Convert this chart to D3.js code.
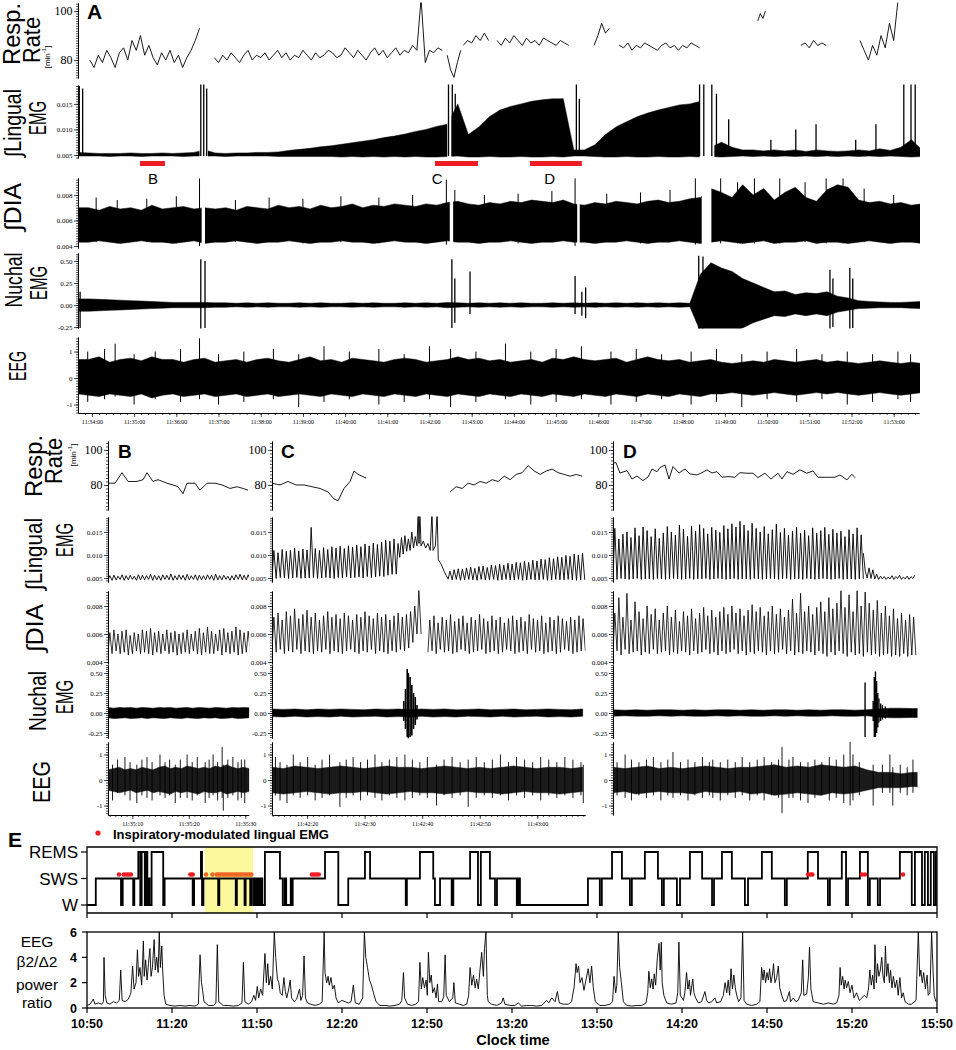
<!DOCTYPE html>
<html><head><meta charset="utf-8"><title>Lingual EMG figure</title>
<script src="https://cdn.jsdelivr.net/npm/d3@7/dist/d3.min.js"></script>
<style>html,body{margin:0;padding:0;background:#fff}svg{display:block}</style>
</head><body>
<script>
// ================= DATA =================
// ---- Panel A (time in minutes after 11:34:00) ----
const aTimeLabels = ["11:34:00","11:35:00","11:36:00","11:37:00","11:38:00","11:39:00","11:40:00","11:41:00","11:42:00","11:43:00","11:44:00","11:45:00","11:46:00","11:47:00","11:48:00","11:49:00","11:50:00","11:51:00","11:52:00","11:53:00"];
const aEnvStart = -0.33, aEnvStep = 0.25;   // envelope sampling of dense traces
const aRespSegStart = [-0.05, 2.9, 8.42, 8.8, 9.6, 11.9, 12.5, 15.78, 16.8, 18.2];
const aRespSegStep  = [0.1, 0.1, 0.08, 0.1, 0.1, 0.09, 0.1, 0.06, 0.1, 0.1];
const aRespSegVals = [
 [80,77,82,79,84,81,77,83,85,80,88,84,90,82,86,81,78,83,80,84,79,82,77,81,84,88,93],
 [81,79,82,80,83,81,79,82,84,80,82,81,83,80,82,84,81,83,80,82,81,84,82,80,83,81,82,84,83,81,82,85,83,81,84,82,80,83,85,82,84,81,83,85,82,84,83,86,84,105,79,84,83,85,84],
 [82,76,73,79,84],
 [86,88,87,90,88,91,88],
 [88,86,89,87,90,88,86,89,87,88,86,89,88,87,86,88,87,86],
 [86,90,95,91,93],
 [86,85,87,84,86,85,87,86,85,84,86,87,85,86,84,86,85,87,86,85],
 [96,99,97,100],
 [86,87,85,88,86,87,86],
 [88,84,80,86,82,90,85,95,88,104]
];
// integrated lingual EMG envelope (units of 0.001)
const aLingHi = [5.5,5.4,5.3,5.3,5.3,5.4,5.3,5.3,5.4,5.3,5.4,5.5,6.0,5.4,5.3,5.4,5.4,5.5,5.5,5.6,5.9,6.1,6.3,6.6,6.8,7.1,7.4,7.7,8.0,8.4,8.7,9.1,9.6,10.0,10.6,11.0,15.0,9.0,10.5,12.5,13.8,14.5,15.0,15.5,15.8,16.0,16.0,6.0,6.0,7.0,9.0,10.5,11.5,12.5,13.2,13.8,14.3,14.8,15.0,15.5,6.5,7.5,6.5,6.0,6.0,5.8,6.0,5.8,6.0,5.7,6.0,5.8,5.7,5.8,6.0,5.8,6.2,5.9,6.5,8.0,6.0];
const aLingLo = [4.8,4.8,4.8,4.7,4.8,4.8,4.7,4.8,4.8,4.8,4.7,4.8,4.8,4.8,4.7,4.8,4.8,4.8,4.8,4.7,4.7,4.7,4.7,4.7,4.7,4.6,4.7,4.6,4.7,4.6,4.7,4.6,4.7,4.6,4.6,4.7,4.8,4.6,4.6,4.7,4.6,4.6,4.7,4.6,4.6,4.7,4.6,4.8,4.8,4.7,4.6,4.6,4.7,4.6,4.6,4.7,4.6,4.6,4.7,4.6,4.7,4.6,4.7,4.8,4.7,4.8,4.7,4.8,4.7,4.8,4.7,4.8,4.7,4.8,4.7,4.8,4.7,4.8,4.7,4.6,4.7];
const aLingSpikes = [[-0.3,18.5,4.8],[-0.22,18.0,4.8],[2.58,19,4.8],[2.65,19,4.8],[2.72,18,4.8],[8.45,19,4.8],[8.54,19,4.8],[8.61,17,4.8],[11.48,19,4.8],[11.55,16,4.8],[14.4,19,4.8],[14.5,19,4.8],[14.69,19,4.8],[14.8,17,4.8],[15.09,12,4.8],[16.09,8,4.8],[16.68,10,4.8],[17.16,11,4.8],[18.1,8,4.8],[18.58,11,4.8],[19.24,19,4.8],[19.41,19,4.8],[19.51,19,4.8]];
const aLingGaps = [[2.55,2.75],[8.42,8.52],[14.4,14.75]];
// integrated diaphragm EMG envelope (units of 0.001)
const aDiaHi = [7.0,7.0,6.8,7.1,6.9,7.0,6.8,7.2,6.9,7.0,7.1,6.9,7.0,6.9,7.0,6.8,7.1,7.0,6.9,7.2,7.0,7.1,6.9,7.2,7.0,7.1,7.3,7.0,7.2,7.1,7.3,7.2,7.1,7.3,7.2,7.4,7.5,7.3,7.2,7.4,7.3,7.5,7.4,7.6,7.5,7.4,7.6,7.3,7.2,7.4,7.3,7.5,7.4,7.3,7.5,7.6,7.4,7.5,7.7,7.8,8.5,8.2,7.8,8.8,8.0,8.5,7.6,8.2,8.6,7.8,7.5,8.4,8.8,8.6,7.6,7.4,7.5,7.3,7.4,7.2,7.3];
const aDiaLo = [4.3,4.3,4.4,4.3,4.2,4.3,4.4,4.3,4.3,4.2,4.3,4.4,4.2,4.3,4.3,4.4,4.3,4.2,4.3,4.3,4.4,4.3,4.2,4.3,4.3,4.4,4.3,4.3,4.2,4.3,4.4,4.3,4.3,4.2,4.3,4.4,4.3,4.3,4.2,4.3,4.3,4.4,4.3,4.2,4.3,4.3,4.4,4.3,4.3,4.2,4.3,4.3,4.4,4.3,4.2,4.3,4.3,4.4,4.3,4.2,4.3,4.4,4.3,4.2,4.3,4.4,4.2,4.3,4.3,4.4,4.2,4.3,4.3,4.2,4.3,4.4,4.3,4.2,4.3,4.3,4.2];
const aDiaSpikes = [[0.1,7.8,4.3],[0.6,7.6,4.2],[1.3,7.7,4.3],[2.0,7.9,4.2],[2.55,9.3,4.0],[3.4,7.6,4.3],[4.2,7.8,4.3],[5.0,7.7,4.2],[5.9,7.9,4.3],[6.8,7.8,4.2],[7.6,8.0,4.3],[8.4,9.2,4.1],[8.6,8.4,4.3],[9.3,8.0,4.3],[10.1,8.1,4.2],[10.9,8.3,4.3],[11.45,9.3,4.0],[12.2,8.1,4.3],[13.0,8.2,4.2],[13.7,8.4,4.3],[14.3,9.3,4.1],[14.9,9.3,4.2],[15.3,9.0,4.2],[15.7,9.3,4.2],[16.3,9.3,4.2],[16.9,9.0,4.3],[17.4,9.3,4.2],[17.8,9.3,4.2],[18.3,8.5,4.3],[19.0,8.0,4.3]];
const aDiaGaps = [[2.6,2.68],[8.48,8.56],[11.5,11.56],[14.45,14.68]];
// nuchal EMG envelope
const aNucHi = [0.07,0.07,0.065,0.06,0.055,0.05,0.045,0.04,0.035,0.03,0.03,0.03,0.03,0.025,0.025,0.02,0.025,0.02,0.025,0.02,0.02,0.025,0.02,0.025,0.02,0.02,0.025,0.02,0.025,0.02,0.02,0.025,0.02,0.025,0.02,0.03,0.025,0.02,0.025,0.02,0.025,0.02,0.025,0.02,0.02,0.025,0.02,0.025,0.02,0.025,0.02,0.025,0.02,0.025,0.02,0.025,0.02,0.025,0.02,0.35,0.48,0.42,0.38,0.3,0.25,0.2,0.15,0.16,0.12,0.14,0.13,0.15,0.1,0.08,0.05,0.04,0.035,0.03,0.03,0.035,0.04];
const aNucLo = [-0.07,-0.07,-0.065,-0.06,-0.055,-0.05,-0.045,-0.04,-0.035,-0.03,-0.03,-0.03,-0.03,-0.025,-0.025,-0.02,-0.025,-0.02,-0.025,-0.02,-0.02,-0.025,-0.02,-0.025,-0.02,-0.02,-0.025,-0.02,-0.025,-0.02,-0.02,-0.025,-0.02,-0.025,-0.02,-0.03,-0.025,-0.02,-0.025,-0.02,-0.025,-0.02,-0.025,-0.02,-0.02,-0.025,-0.02,-0.025,-0.02,-0.025,-0.02,-0.025,-0.02,-0.025,-0.02,-0.025,-0.02,-0.025,-0.02,-0.3,-0.35,-0.33,-0.3,-0.26,-0.2,-0.16,-0.12,-0.13,-0.1,-0.12,-0.1,-0.12,-0.08,-0.06,-0.04,-0.035,-0.03,-0.03,-0.03,-0.035,-0.04];
const aNucSpikes = [[-0.28,0.15,-0.26],[2.58,0.52,-0.27],[2.68,0.5,-0.26],[8.53,0.52,-0.26],[8.6,0.3,-0.2],[8.96,0.38,-0.1],[11.45,0.33,-0.1],[11.61,0.15,-0.12],[11.7,0.2,-0.15],[14.38,0.56,-0.28],[14.48,0.55,-0.3],[17.49,0.4,-0.28],[17.56,0.3,-0.25],[17.96,0.42,-0.28],[18.03,0.3,-0.26]];
// EEG envelope
const aEegHi = [0.7,0.7,0.8,0.6,0.7,0.75,0.65,0.8,0.7,0.7,0.6,0.7,0.75,0.6,0.65,0.7,0.6,0.7,0.75,0.65,0.6,0.7,0.8,0.65,0.7,0.6,0.75,0.7,0.65,0.6,0.7,0.75,0.7,0.6,0.65,0.7,0.8,0.7,0.75,0.65,0.7,0.6,0.65,0.7,0.6,0.75,0.7,0.8,0.7,0.65,0.7,0.75,0.6,0.7,0.8,0.7,0.65,0.7,0.6,0.65,0.7,0.6,0.55,0.6,0.65,0.6,0.7,0.65,0.6,0.65,0.7,0.6,0.65,0.6,0.55,0.6,0.65,0.6,0.55,0.6,0.55];
const aEegLo = [-0.6,-0.65,-0.7,-0.6,-0.65,-0.7,-0.6,-0.75,-0.65,-0.6,-0.7,-0.65,-0.6,-0.7,-0.65,-0.6,-0.7,-0.65,-0.6,-0.7,-0.65,-0.6,-0.65,-0.7,-0.6,-0.65,-0.7,-0.6,-0.65,-0.7,-0.6,-0.65,-0.7,-0.6,-0.65,-0.7,-0.6,-0.65,-0.7,-0.6,-0.65,-0.7,-0.6,-0.65,-0.7,-0.6,-0.65,-0.7,-0.6,-0.65,-0.7,-0.6,-0.65,-0.7,-0.6,-0.65,-0.7,-0.6,-0.65,-0.7,-0.6,-0.6,-0.55,-0.6,-0.65,-0.6,-0.55,-0.6,-0.65,-0.6,-0.55,-0.6,-0.55,-0.6,-0.65,-0.6,-0.55,-0.6,-0.65,-0.6,-0.55];
const aEegSpikes = [[-0.1,1.0,-0.9],[0.3,1.1,-0.8],[0.55,1.3,-0.7],[1.0,0.9,-1.0],[1.5,1.0,-0.8],[2.1,1.1,-0.9],[2.55,1.5,-0.8],[3.0,0.9,-1.0],[3.6,1.0,-0.9],[4.3,1.1,-0.8],[4.9,0.9,-1.1],[5.5,1.2,-0.9],[6.1,1.0,-0.8],[6.8,1.1,-1.0],[7.4,0.9,-0.9],[8.0,1.2,-0.8],[8.5,1.1,-1.1],[9.1,1.0,-0.9],[9.8,1.3,-0.8],[10.4,1.0,-1.0],[11.0,1.1,-0.9],[11.6,1.2,-0.8],[12.3,1.0,-1.0],[12.9,1.1,-0.9],[13.5,0.9,-0.8],[14.2,1.0,-1.0],[14.8,1.1,-0.9],[15.4,0.9,-1.1],[16.0,1.0,-0.8],[16.7,1.1,-0.9],[17.3,0.9,-0.8],[17.9,1.0,-1.0],[18.5,0.9,-0.9],[19.1,1.0,-0.8],[19.4,0.9,-0.9]];
const aMarkLabels = ["B","C","D"];
const aMarkStart = [1.14, 8.13, 10.38];
const aMarkEnd   = [1.73, 9.15, 11.61];
const aMarkLabelAt = [1.45, 8.18, 10.85];

// ---- Panel B (seconds after 11:35:00) ----
const bTimeLabels = ["11:35:10","11:35:20","11:35:30"];
const bResp = [[5.7,81],[6.94,81],[8.18,87],[9.24,82],[10.83,82],[11.9,83],[12.6,87],[13.66,82],[14.55,83],[16.14,81],[17.2,80],[18.09,79],[18.97,75],[19.68,81],[21.1,81],[21.98,77],[23.22,81],[24.64,81],[25.88,80],[27.3,78],[28.53,79],[29.6,78],[30.48,77]];
const bBreathStart = 5.7, bBreath = 0.72;
const bLingPk = [5.5,5.6,5.4,5.7,5.5,5.6,5.4,5.7,5.6,5.5,5.8,5.6,5.5,5.7,5.6,5.9,5.5,5.7,5.6,5.8,5.5,5.7,5.6,5.5,5.7,5.6,5.8,5.5,5.6,5.4,5.5,5.7,5.8,5.6,5.7];
const bLingTr = [4.6,4.5,4.6,4.7,4.5,4.6,4.7,4.5,4.6,4.6,4.7,4.5,4.6,4.5,4.7,4.6,4.5,4.6,4.7,4.5,4.6,4.7,4.5,4.6,4.6,4.7,4.5,4.6,4.6,4.7,4.5,4.6,4.7,4.6,4.6];
const bDiaPk = [6.1,6.3,6.0,6.2,6.3,5.9,6.1,6.0,6.3,6.2,6.4,6.1,6.2,6.0,6.3,6.1,6.2,6.0,6.1,6.3,6.0,6.2,6.4,6.1,6.5,6.2,6.0,6.3,6.4,6.1,6.2,6.5,6.3,6.1,6.2];
const bDiaTr = [4.7,4.6,4.8,4.6,4.7,4.5,4.6,4.8,4.6,4.7,4.6,4.5,4.7,4.6,4.8,4.6,4.7,4.5,4.6,4.7,4.6,4.8,4.6,4.5,4.7,4.6,4.6,4.8,4.5,4.7,4.6,4.7,4.5,4.6,4.7];
const bBandStart = 5.7, bBandStep = 1.0;
const bNucHi = [0.07,0.06,0.07,0.065,0.07,0.06,0.07,0.065,0.06,0.07,0.065,0.07,0.06,0.065,0.07,0.06,0.07,0.065,0.06,0.07,0.065,0.06,0.07,0.065,0.07,0.065];
const bNucLo = [-0.06,-0.07,-0.065,-0.06,-0.07,-0.065,-0.06,-0.07,-0.06,-0.065,-0.07,-0.06,-0.065,-0.07,-0.06,-0.065,-0.07,-0.06,-0.065,-0.06,-0.07,-0.065,-0.06,-0.07,-0.065,-0.06];
const bEegHi = [0.4,0.45,0.5,0.4,0.45,0.4,0.5,0.45,0.4,0.5,0.55,0.45,0.5,0.45,0.55,0.5,0.45,0.5,0.45,0.55,0.5,0.6,0.5,0.45,0.5,0.45];
const bEegLo = [-0.4,-0.45,-0.5,-0.45,-0.4,-0.5,-0.45,-0.4,-0.5,-0.45,-0.5,-0.55,-0.45,-0.5,-0.45,-0.5,-0.55,-0.45,-0.5,-0.5,-0.45,-0.55,-0.5,-0.45,-0.5,-0.45];
const bEegSpikes = [[6.5,0.6,-0.8],[7.4,0.8,-0.5],[8.7,0.9,-0.6],[9.6,0.7,-0.8],[10.8,0.6,-0.9],[11.7,0.8,-0.6],[12.6,0.9,-0.7],[13.5,0.7,-0.8],[14.9,1.0,-0.6],[15.8,0.7,-0.7],[16.6,0.8,-0.6],[17.6,0.6,-0.9],[18.5,0.8,-0.7],[19.7,1.0,-0.7],[20.6,0.7,-0.8],[21.5,0.9,-0.6],[22.9,0.7,-0.9],[23.6,0.8,-0.7],[24.3,1.0,-0.6],[25.1,0.7,-0.8],[25.9,1.3,-0.7],[26.1,0.6,-1.2],[26.9,0.8,-0.7],[27.8,0.9,-0.6],[28.7,0.7,-0.8],[29.3,0.8,-0.7],[29.9,0.8,-0.9]];

// ---- Panel C (seconds after 11:42:00) ----
const cTimeLabels = ["11:42:20","11:42:30","11:42:40","11:42:50","11:43:00"];
const cResp1 = [[13.9,81],[15.29,80],[16.68,82],[18.07,80],[19.47,80],[20.86,79],[22.25,78],[23.64,76],[24.68,72],[25.38,71],[26.42,78],[27.47,82],[28.16,88],[28.86,86],[29.55,85],[30.25,84]];
const cResp2 = [[44.86,76],[45.9,79],[46.94,78],[47.99,81],[49.03,80],[50.07,82],[51.12,81],[52.16,83],[53.2,82],[54.25,85],[55.29,83],[56.33,86],[57.38,87],[58.42,91],[59.47,88],[60.51,86],[61.55,88],[62.6,89],[63.64,87],[64.68,86],[65.73,85],[66.77,86],[67.81,85]];
const cBreath = 0.72;
const cLing1Start = 13.9;
const cLing1Pk = [11.0,10.5,11.2,10.8,11.0,11.5,10.9,11.3,11.1,16.0,11.4,11.0,11.6,11.2,11.8,11.5,11.9,11.4,12.0,11.7,12.2,11.8,12.4,12.0,12.6,12.3,12.8,13.2,13.0,13.5];
const cLing1Tr = [5.0,4.9,5.1,5.0,4.9,5.0,5.1,4.9,5.0,5.0,5.1,4.9,5.0,5.1,5.0,4.9,5.1,5.0,5.2,5.0,5.1,5.2,5.0,5.3,5.1,5.2,5.4,5.3,5.6,5.8];
const cLingArousal = [[35.5,5.9],[35.8,12.5],[36.1,9.5],[36.4,13.8],[36.7,10.2],[37.0,14.2],[37.3,10.8],[37.6,13.5],[37.9,11.0],[38.2,15.0],[38.5,11.5],[38.8,14.0],[39.1,12.0],[39.3,19.5],[39.45,12.5],[39.6,19.5],[39.8,12.0],[40.2,13.0],[40.6,11.5],[41.0,12.5],[41.4,11.0],[41.7,19.5],[41.9,11.0],[42.3,12.0],[42.6,19.5],[42.8,9.0],[43.3,8.0],[43.8,6.5],[44.2,5.5],[44.5,4.8]];
const cLing3Start = 44.5;
const cLing3Pk = [6.5,6.8,7.0,6.9,7.2,7.4,7.1,7.5,7.6,7.3,7.8,7.7,8.0,7.8,8.2,8.0,8.4,8.3,8.6,8.4,8.9,8.7,9.1,9.0,9.4,9.2,9.6,9.5,9.9,9.7,10.2,10.0,10.4];
const cLing3Tr = [4.7,4.6,4.7,4.5,4.6,4.7,4.6,4.5,4.7,4.6,4.6,4.7,4.5,4.6,4.7,4.6,4.6,4.7,4.5,4.6,4.7,4.6,4.6,4.7,4.5,4.6,4.7,4.6,4.6,4.7,4.6,4.5,4.6];
const cDia1Start = 13.9;
const cDia1Pk = [7.2,7.5,7.0,7.6,7.3,7.8,7.1,7.4,7.7,7.2,7.5,7.0,7.3,7.6,7.2,7.4,7.1,7.5,7.3,7.0,7.4,7.2,7.6,7.3,7.1,7.5,7.2,7.4,7.0,7.3,7.5,7.2,7.4,7.6,8.0,9.2];
const cDia1Tr = [4.8,4.7,4.9,4.6,4.8,4.7,4.9,4.6,4.8,4.7,4.6,4.8,4.7,4.9,4.6,4.8,4.7,4.6,4.8,4.9,4.7,4.6,4.8,4.7,4.9,4.6,4.8,4.7,4.6,4.8,4.7,4.9,4.8,5.0,5.4,6.0];
const cDia2Start = 41.0;
const cDia2Pk = [7.0,7.3,6.8,7.2,7.0,7.4,6.9,7.1,7.3,6.8,7.2,7.0,7.4,7.1,6.9,7.3,7.0,7.2,6.8,7.1,7.3,7.0,7.2,6.9,7.4,7.1,7.0,7.3,6.8,7.2,7.0,7.3,7.1,6.9,7.2,7.0,7.3,7.1];
const cDia2Tr = [4.7,4.8,4.6,4.9,4.7,4.8,4.6,4.7,4.9,4.8,4.6,4.7,4.8,4.9,4.6,4.7,4.8,4.6,4.7,4.9,4.8,4.6,4.7,4.8,4.6,4.9,4.7,4.8,4.6,4.7,4.8,4.6,4.7,4.9,4.8,4.6,4.7,4.8];
const cBandStart = 13.9, cBandStep = 2.0;
const cNucHi = [0.05,0.045,0.05,0.04,0.05,0.045,0.05,0.045,0.04,0.05,0.045,0.05,0.04,0.05,0.045,0.05,0.04,0.045,0.05,0.04,0.045,0.05,0.04,0.045,0.05,0.045,0.04,0.05];
const cNucLo = [-0.045,-0.05,-0.04,-0.05,-0.045,-0.05,-0.04,-0.05,-0.045,-0.04,-0.05,-0.045,-0.05,-0.04,-0.05,-0.045,-0.05,-0.04,-0.045,-0.05,-0.04,-0.05,-0.045,-0.04,-0.05,-0.045,-0.05,-0.04];
const cNucSpikes = [[36.8,0.15,-0.1],[37.1,0.3,-0.2],[37.4,0.55,-0.3],[37.6,0.5,-0.32],[37.9,0.45,-0.3],[38.2,0.35,-0.28],[38.5,0.25,-0.2],[38.8,0.2,-0.15],[39.1,0.1,-0.08]];
const cEegHi = [0.5,0.45,0.55,0.5,0.45,0.5,0.55,0.5,0.45,0.5,0.55,0.5,0.5,0.45,0.5,0.55,0.5,0.45,0.5,0.45,0.5,0.55,0.5,0.45,0.5,0.5,0.45,0.5];
const cEegLo = [-0.5,-0.55,-0.5,-0.45,-0.5,-0.55,-0.5,-0.5,-0.45,-0.5,-0.55,-0.5,-0.45,-0.5,-0.5,-0.55,-0.5,-0.45,-0.5,-0.5,-0.55,-0.5,-0.45,-0.5,-0.5,-0.55,-0.5,-0.45];
const cEegSpikes = [[14.5,0.9,-0.6],[15.3,0.7,-0.8],[16.5,0.6,-0.9],[17.6,1.0,-0.6],[18.8,0.7,-0.7],[20.1,0.9,-0.6],[21.4,0.6,-0.8],[22.6,0.8,-0.7],[23.9,1.0,-0.6],[25.7,0.7,-1.05],[26.8,0.8,-0.7],[28.0,0.9,-0.6],[29.3,0.7,-0.8],[30.5,0.8,-0.6],[31.8,1.0,-0.7],[33.0,0.7,-0.8],[34.3,0.8,-0.6],[35.6,0.9,-0.7],[37.0,1.0,-0.8],[38.3,0.8,-0.7],[39.6,0.7,-0.6],[40.9,0.9,-0.7],[42.5,0.6,-1.0],[43.8,0.8,-0.6],[45.2,0.9,-0.7],[46.6,0.7,-0.6],[48.0,0.8,-1.05],[49.4,0.9,-0.7],[50.8,0.7,-0.6],[52.2,0.8,-0.7],[53.6,1.0,-0.6],[55.0,0.7,-0.8],[56.4,0.9,-0.6],[57.8,0.8,-0.7],[59.2,0.7,-0.6],[60.6,0.9,-0.8],[62.0,0.8,-0.6],[63.4,0.7,-0.7],[64.8,0.9,-0.6],[66.2,0.8,-0.7],[67.6,0.7,-0.6],[68.0,0.6,-0.9]];

// ---- Panel D (seconds after 11:44:00) ----
const dTimeLabels = ["11:44:40","11:44:50","11:45:00","11:45:10","11:45:20","11:45:30"];
const dResp = [[38.8,92.6],[39.32,92.7],[40.01,86.8],[41.23,88.2],[42.09,83.4],[42.96,85.1],[44.0,82.5],[44.87,84.5],[45.56,89.1],[46.43,87.6],[46.95,89.9],[47.81,91.4],[48.51,83.4],[49.2,90.5],[50.24,86.8],[51.28,89.1],[52.15,86.3],[53.36,85.7],[54.22,87.0],[55.09,88.6],[55.96,86.8],[56.82,87.6],[57.69,84.4],[58.73,84.8],[59.94,84.4],[60.81,87.0],[62.02,86.7],[63.06,86.7],[63.93,84.2],[65.14,86.7],[66.18,83.4],[67.4,86.7],[68.09,83.4],[68.96,87.6],[70.0,86.1],[71.21,88.6],[72.42,86.7],[73.46,88.0],[74.33,84.4],[75.89,84.4],[77.27,84.4],[78.14,85.7],[79.35,82.9],[80.22,86.1],[80.74,84.2]];
const dBreathStart = 38.8, dBreath = 0.70;
const dLingPk = [15.8,13.5,14.5,15.0,13.8,15.9,14.2,16.1,15.3,14.0,15.7,13.6,14.8,16.2,15.0,14.3,16.5,15.6,14.1,16.3,15.2,16.6,15.8,14.6,16.0,15.4,14.9,16.4,15.7,16.8,16.1,17.3,16.5,15.3,16.9,15.8,15.0,16.2,14.6,15.5,16.7,14.9,15.8,14.3,15.2,16.0,14.7,15.4,14.2,15.9,14.8,15.3,16.0,14.5,15.6,14.8,15.2,14.0,15.5,14.6,15.9,14.4];
const dLingTr = [4.8,4.7,4.9,4.8,4.7,4.8,4.9,4.7,4.8,4.8,4.7,4.9,4.8,4.7,4.8,4.9,4.8,4.7,4.8,4.9,4.7,4.8,4.8,4.9,4.7,4.8,4.9,4.8,4.7,4.8,4.9,4.7,4.8,4.8,4.7,4.9,4.8,4.7,4.8,4.9,4.8,4.7,4.8,4.9,4.7,4.8,4.8,4.7,4.9,4.8,4.7,4.8,4.9,4.8,4.7,4.8,4.9,4.7,4.8,4.8,4.7,4.8];
const dLingTailStart = 82.2, dLingTailStep = 0.33;
const dLingTail = [10.4,6.5,5.0,7.2,4.9,6.8,4.8,5.8,4.7,5.4,4.8,5.3,4.7,5.2,4.8,5.5,4.7,5.3,4.9,5.6,4.7,5.2,4.8,5.4,4.7,5.3,4.9,5.6];
const dDiaPk = [7.5,8.6,7.2,8.9,7.0,8.3,7.6,7.1,8.0,7.4,7.8,7.0,7.5,8.0,7.2,7.7,6.9,7.6,7.3,7.8,7.1,7.5,7.9,7.3,7.7,7.2,7.6,7.9,7.4,8.0,7.5,7.8,7.3,7.7,8.1,7.6,7.9,7.3,7.6,8.0,7.4,7.8,7.2,7.7,8.5,7.5,8.9,7.6,8.0,7.4,7.9,8.3,7.6,8.6,7.8,8.2,9.1,7.9,8.8,7.6,9.1,8.0,9.0,8.2,7.7,8.4,7.5,8.0,7.3,7.8,7.1,7.5,7.0,7.4,7.2];
const dDiaTr = [4.6,4.8,4.5,4.9,4.6,4.7,4.8,4.5,4.7,4.6,4.9,4.6,4.7,4.8,4.5,4.7,4.6,4.8,4.7,4.5,4.8,4.6,4.7,4.9,4.6,4.7,4.5,4.8,4.6,4.7,4.9,4.6,4.8,4.5,4.7,4.6,4.8,4.7,4.5,4.8,4.6,4.7,4.9,4.6,4.8,4.5,4.7,4.6,4.8,4.7,4.5,4.8,4.6,4.4,4.7,4.5,4.8,4.6,4.4,4.7,4.5,4.6,4.4,4.7,4.5,4.6,4.4,4.5,4.6,4.4,4.5,4.4,4.6,4.4,4.5];
const dBandStart = 38.8, dBandStep = 2.0;
const dNucHi = [0.04,0.035,0.04,0.035,0.04,0.04,0.035,0.04,0.035,0.04,0.04,0.035,0.04,0.035,0.04,0.04,0.035,0.04,0.035,0.04,0.04,0.035,0.04,0.05,0.06,0.06,0.055,0.06];
const dNucLo = [-0.04,-0.035,-0.04,-0.04,-0.035,-0.04,-0.035,-0.04,-0.04,-0.035,-0.04,-0.035,-0.04,-0.04,-0.035,-0.04,-0.035,-0.04,-0.04,-0.035,-0.04,-0.04,-0.035,-0.05,-0.06,-0.06,-0.055,-0.06];
const dNucSpikes = [[82.5,0.38,-0.3],[83.9,0.15,-0.1],[84.1,0.45,-0.3],[84.3,0.52,-0.3],[84.5,0.4,-0.25],[84.7,0.25,-0.18],[84.9,0.18,-0.12],[85.2,0.12,-0.1],[85.5,0.1,-0.08],[86.0,0.08,-0.07]];
const dEegHi = [0.5,0.45,0.5,0.55,0.45,0.5,0.45,0.5,0.55,0.5,0.45,0.5,0.5,0.55,0.6,0.5,0.55,0.5,0.6,0.55,0.5,0.55,0.4,0.3,0.3,0.25,0.3,0.3];
const dEegLo = [-0.5,-0.45,-0.55,-0.5,-0.45,-0.5,-0.5,-0.55,-0.45,-0.5,-0.5,-0.45,-0.55,-0.5,-0.6,-0.55,-0.5,-0.55,-0.6,-0.5,-0.55,-0.5,-0.4,-0.3,-0.3,-0.3,-0.25,-0.3];
const dEegSpikes = [[39.5,0.7,-0.6],[40.9,1.0,-0.7],[42.0,0.8,-0.8],[43.3,0.7,-0.6],[44.6,0.8,-0.7],[45.8,0.9,-0.6],[47.1,0.7,-0.8],[48.3,0.8,-0.6],[49.2,1.1,-0.7],[50.5,0.7,-0.6],[51.8,0.8,-0.8],[53.0,0.7,-0.6],[54.3,0.9,-0.7],[55.5,0.7,-0.6],[56.1,0.8,-0.7],[57.4,0.7,-0.8],[58.7,0.8,-0.6],[60.0,0.7,-0.7],[61.2,0.9,-0.6],[62.5,0.7,-0.8],[63.8,0.8,-0.6],[65.0,0.9,-0.8],[66.3,0.7,-0.6],[67.5,0.8,-0.7],[68.1,1.3,-1.3],[69.3,0.8,-0.7],[70.0,0.9,-0.7],[71.3,0.7,-0.8],[72.6,0.7,-0.9],[73.8,0.8,-0.7],[75.0,0.7,-0.6],[76.3,0.9,-0.8],[77.5,0.8,-0.7],[78.8,1.0,-0.9],[79.9,1.5,-1.0],[80.4,1.0,-0.8],[81.5,0.7,-0.6],[83.9,0.6,-1.0],[85.5,0.6,-0.5],[86.8,1.0,-0.5],[87.3,0.5,-1.0],[88.6,0.6,-0.5],[89.8,0.5,-0.6],[90.8,0.8,-0.5]];

// ---- Panel E (minutes after 10:50) ----
const eTimeLabels = ["10:50","11:20","11:50","12:20","12:50","13:20","13:50","14:20","14:50","15:20","15:50"];
const eStates = ["W","SWS","REMS"];
const eHypno = [[0,0],[3.1,1],[12.0,0],[12.6,1],[16.3,0],[16.7,1],[18.1,2],[18.8,0],[19.3,2],[20.4,0],[20.8,2],[21.3,0],[21.7,1],[22.1,0],[22.8,2],[26.9,0],[27.4,1],[37.3,0],[37.8,1],[40.2,2],[40.6,0],[41.1,1],[46.3,0],[46.7,1],[52.5,0],[52.9,1],[55.6,0],[56.0,1],[57.6,0],[58.0,1],[58.7,0],[59.3,1],[59.9,0],[60.4,1],[61.0,0],[61.6,1],[61.9,0],[62.8,2],[68.1,1],[69.1,0],[69.8,1],[70.3,0],[71.9,1],[72.3,0],[72.6,1],[84.0,2],[88.7,0],[92.2,1],[98.1,2],[99.9,1],[112.5,0],[112.9,1],[117.5,2],[122.2,1],[122.8,0],[124.6,1],[128.7,0],[129.3,1],[135.2,2],[138.0,0],[139.0,2],[142.2,1],[144.0,0],[144.7,1],[151.7,0],[152.2,1],[152.8,0],[176.8,1],[181.0,0],[181.7,1],[185.3,2],[188.8,1],[191.6,0],[192.3,1],[196.9,2],[201.5,1],[202.9,0],[203.6,1],[208.2,0],[209.3,1],[212.8,2],[217.1,1],[220.6,0],[221.3,1],[224.1,2],[227.6,1],[232.2,0],[233.3,1],[238.2,2],[241.7,1],[246.3,0],[247.0,1],[254.4,2],[258.0,1],[261.5,0],[262.2,1],[266.4,2],[267.9,0],[268.6,1],[272.8,2],[275.6,0],[276.3,1],[279.1,0],[279.9,1],[286.9,2],[291.1,0],[292.2,2],[294.7,0],[295.7,2],[296.8,0],[297.8,2],[298.9,0],[299.6,2]];
const eDots = [11.3,13.0,13.9,14.7,15.5,36.5,37.3,42.0,44.3,45.8,46.5,47.2,47.9,48.6,49.3,50.0,50.7,51.4,52.1,52.8,53.5,54.2,55.0,55.8,56.6,57.4,58.0,79.4,80.2,81.0,81.8,254.5,255.4,256.0,273.5,274.6,288.0];
const eHighlight = [41.6, 58.6];
const eRatio = [[0.1,0.2],[1.1,0.3],[2.2,0.7],[2.8,0.3],[4.0,0.4],[5.2,0.3],[5.8,0.5],[6.0,4.0],[6.4,1.0],[7.0,0.4],[8.1,0.3],[9.3,0.5],[10.5,0.4],[11.4,0.6],[11.9,3.0],[12.4,0.6],[13.4,0.5],[14.6,0.7],[15.5,1.2],[16.1,3.3],[16.6,1.5],[17.3,2.0],[17.8,4.6],[18.2,2.5],[18.7,3.2],[19.3,1.8],[19.9,5.3],[20.2,2.5],[20.7,3.8],[21.2,2.2],[21.7,3.5],[22.2,4.7],[22.6,2.5],[23.1,3.2],[23.7,5.4],[24.1,3.0],[24.6,4.0],[25.1,2.8],[25.5,6.0],[25.9,3.2],[26.4,4.9],[26.7,3.0],[27.2,1.0],[27.8,0.3],[29.3,0.2],[31.1,0.15],[32.8,0.2],[34.6,0.15],[36.4,0.2],[38.1,0.15],[39.3,0.3],[39.9,4.2],[40.4,2.0],[40.8,1.4],[41.3,0.5],[42.8,0.2],[44.6,0.2],[45.5,0.4],[46.0,5.0],[46.5,0.5],[48.1,0.2],[49.9,0.2],[51.7,0.15],[53.4,0.2],[54.7,0.4],[55.2,3.6],[55.7,0.5],[56.9,0.3],[58.1,0.5],[58.9,1.0],[59.5,0.6],[60.1,1.7],[60.6,0.8],[61.3,1.5],[62.0,1.0],[62.8,4.3],[63.3,2.0],[63.8,3.5],[64.2,1.8],[64.8,2.5],[65.4,1.5],[66.1,6.0],[66.6,4.0],[67.2,2.3],[67.7,2.0],[68.2,1.2],[68.9,1.0],[69.5,2.4],[70.0,1.3],[70.5,0.8],[71.2,1.5],[71.7,2.2],[72.2,0.8],[73.1,0.5],[74.0,0.7],[75.0,1.5],[75.5,0.6],[76.1,1.0],[76.6,4.1],[77.1,0.8],[77.8,0.4],[79.0,0.3],[80.5,0.2],[82.0,0.3],[83.0,0.5],[83.7,6.0],[84.0,2.8],[84.6,2.0],[85.1,2.5],[85.5,1.8],[86.1,2.4],[86.7,1.5],[87.3,1.8],[87.9,0.8],[88.7,0.4],[89.9,0.6],[91.1,0.5],[92.2,0.4],[93.2,0.5],[94.0,1.8],[94.7,0.4],[96.1,0.3],[97.3,0.8],[97.9,6.0],[98.4,4.0],[99.0,3.2],[99.7,2.2],[100.4,1.8],[101.1,1.2],[102.0,0.5],[103.4,0.2],[105.2,0.2],[107.0,0.15],[108.7,0.2],[110.3,0.3],[111.1,0.6],[111.7,2.8],[112.1,0.8],[113.1,0.3],[114.6,0.2],[116.1,0.3],[117.0,0.5],[117.5,3.6],[118.0,1.5],[118.5,2.4],[119.1,1.6],[119.7,2.2],[120.1,1.0],[120.5,4.4],[121.0,2.0],[121.5,2.6],[122.0,1.2],[122.6,1.6],[123.2,0.8],[123.7,1.9],[124.1,0.5],[125.2,0.5],[125.9,0.9],[126.4,4.2],[126.8,1.0],[127.9,0.5],[129.1,0.8],[129.5,2.0],[130.0,0.4],[131.4,0.3],[132.8,0.2],[134.0,0.3],[134.7,1.0],[135.2,3.2],[135.8,1.8],[136.4,2.6],[137.0,1.6],[137.5,2.3],[138.1,1.5],[138.7,3.0],[139.3,4.4],[139.9,2.5],[140.3,4.7],[140.8,6.0],[141.3,1.0],[141.6,0.5],[142.8,0.3],[144.6,0.2],[146.3,0.4],[146.9,0.8],[147.5,0.3],[149.3,0.2],[151.0,0.2],[152.2,0.4],[153.4,0.15],[155.2,0.2],[156.9,0.2],[158.7,0.15],[160.5,0.2],[162.2,0.6],[163.0,0.4],[164.0,0.8],[165.2,0.5],[166.0,1.3],[166.7,0.4],[168.1,0.3],[169.9,0.3],[171.0,0.5],[171.9,1.6],[172.6,3.5],[173.0,2.8],[173.5,3.3],[174.0,2.0],[174.7,2.4],[175.4,1.4],[176.1,2.2],[176.9,3.1],[177.5,2.0],[178.1,3.3],[178.7,1.6],[179.4,0.5],[181.0,0.2],[182.8,0.2],[184.6,0.3],[185.5,0.5],[186.0,2.5],[186.6,1.2],[187.0,1.8],[187.5,6.0],[188.0,3.2],[188.6,2.0],[189.3,0.5],[190.5,0.2],[192.2,0.15],[194.0,0.2],[195.8,0.2],[197.3,0.4],[197.9,1.2],[198.3,2.9],[198.8,1.6],[199.3,2.3],[199.8,1.5],[200.2,2.7],[200.7,1.8],[201.3,4.0],[201.9,5.1],[202.3,3.0],[202.7,5.2],[203.0,2.0],[203.6,1.0],[204.6,0.4],[206.3,0.3],[207.9,0.4],[208.5,1.2],[208.9,5.2],[209.4,1.0],[210.5,0.6],[211.0,1.2],[211.6,2.8],[212.1,1.5],[212.6,2.2],[213.0,1.0],[213.8,2.3],[214.2,1.2],[214.8,0.8],[215.8,0.4],[216.9,0.5],[218.1,1.3],[218.7,0.6],[219.4,0.4],[220.5,0.5],[221.6,0.8],[222.2,0.4],[223.6,0.5],[224.6,1.0],[225.2,2.0],[225.8,1.2],[226.3,2.2],[226.8,1.0],[227.3,3.1],[227.8,1.5],[228.3,2.6],[228.8,1.6],[229.3,1.0],[230.0,0.5],[230.8,0.8],[231.4,6.0],[231.9,0.6],[232.8,0.3],[234.6,0.2],[236.3,0.3],[237.5,0.5],[238.1,3.2],[238.6,2.2],[239.0,3.0],[239.5,2.0],[240.0,2.8],[240.5,2.2],[240.9,3.1],[241.4,2.0],[241.9,2.6],[242.3,3.5],[242.8,2.0],[243.4,2.4],[244.0,3.3],[244.5,1.6],[245.2,1.0],[246.0,0.5],[246.9,0.6],[247.9,1.3],[248.3,0.5],[249.3,0.8],[250.2,0.5],[251.0,0.6],[252.1,1.2],[252.6,3.8],[253.0,1.0],[254.0,1.1],[254.6,2.4],[255.0,4.8],[255.5,1.5],[256.3,0.5],[258.1,0.4],[259.9,0.3],[261.6,0.4],[263.4,0.3],[264.6,0.4],[265.4,1.0],[265.8,3.2],[266.2,1.8],[266.7,2.5],[267.2,1.5],[267.6,2.2],[268.1,1.6],[268.7,2.1],[269.3,1.2],[270.0,1.8],[270.7,0.8],[271.6,1.2],[272.6,0.6],[273.5,0.8],[274.3,1.0],[275.2,0.8],[275.8,1.5],[276.3,3.0],[276.8,1.8],[277.3,2.6],[277.8,1.5],[278.1,5.0],[278.6,2.0],[279.0,3.5],[279.5,2.5],[280.0,3.0],[280.5,4.0],[280.9,2.6],[281.4,2.0],[281.8,4.9],[282.2,2.5],[282.7,3.5],[283.2,2.0],[283.6,3.0],[284.1,1.6],[284.6,2.5],[285.2,1.6],[285.8,2.2],[286.3,1.0],[286.9,2.4],[287.5,0.8],[288.1,1.2],[288.7,0.5],[289.9,0.3],[291.0,0.3],[292.6,0.6],[293.4,6.0],[293.9,2.5],[294.3,3.0],[294.8,2.0],[295.3,2.8],[295.9,1.5],[296.5,2.6],[296.9,1.0],[297.5,1.2],[298.1,6.0],[298.6,3.0],[299.0,1.0],[299.6,0.5]];

// ================= DRAWING =================
const svg = d3.select('body').append('svg').attr('width',956).attr('height',1050);
svg.append('rect').attr('width',956).attr('height',1050).attr('fill','#fff');
const SANS = "'Liberation Sans', Arial, Helvetica, sans-serif";
const SERIF = "'Liberation Serif', 'Times New Roman', serif";
let cid = 0;
function clip(x0,y0,x1,y1){const id='cp'+(cid++);svg.append('clipPath').attr('id',id).append('rect').attr('x',x0).attr('y',y0).attr('width',x1-x0).attr('height',y1-y0);return 'url(#'+id+')';}
function rng(a,b,s){const o=[];const n=Math.floor((b-a)/s+1e-6);for(let i=0;i<=n;i++)o.push(+(a+i*s).toFixed(6));return o;}
function yAxis(x, ys, major, minorStep, fmt, fs){
  const [d0,d1]=ys.domain();
  const minor=rng(Math.ceil(d0/minorStep-1e-6)*minorStep, d1, minorStep);
  const g=svg.append('g').attr('transform',`translate(${x},0)`);
  g.append('g').call(d3.axisLeft(ys).tickValues(minor).tickSize(2).tickSizeOuter(0).tickFormat(()=>''));
  const m=g.append('g').call(d3.axisLeft(ys).tickValues(major).tickSize(4).tickSizeOuter(0).tickPadding(1.5).tickFormat(fmt));
  m.selectAll('text').attr('font-family',SERIF).attr('font-size',fs).attr('fill','#000');
  g.selectAll('line').attr('stroke','#000').attr('stroke-width',0.7);
  g.selectAll('.domain').attr('stroke','#000').attr('stroke-width',0.9);
}
function xAxis(y, xs, major, labels, minorStep, fs, clipR){
  const [d0,d1]=xs.domain();
  const minor=rng(Math.ceil(d0/minorStep-1e-6)*minorStep, d1, minorStep);
  const g=svg.append('g').attr('transform',`translate(0,${y})`);
  if(clipR) g.attr('clip-path',clipR);
  g.append('g').call(d3.axisBottom(xs).tickValues(minor).tickSize(2).tickSizeOuter(0).tickFormat(()=>''));
  const m=g.append('g').call(d3.axisBottom(xs).tickValues(major).tickSize(4).tickSizeOuter(0).tickPadding(3).tickFormat((d,i)=>labels[i]));
  m.selectAll('text').attr('font-family',SERIF).attr('font-size',fs).attr('fill','#000');
  g.selectAll('line').attr('stroke','#000').attr('stroke-width',0.7);
  g.selectAll('.domain').attr('stroke','#000').attr('stroke-width',0.9);
}
function drawLine(pts, xs, ys, cp, w){
  svg.append('path').datum(pts).attr('clip-path',cp).attr('fill','none').attr('stroke','#000').attr('stroke-width',w||0.8).attr('stroke-linejoin','round')
    .attr('d', d3.line().x(d=>xs(d[0])).y(d=>ys(d[1])));
}
function drawBand(t0, dt, hi, lo, xs, ys, cp, fill){
  const pts = hi.map((h,i)=>[t0+i*dt, h, lo[i]]);
  svg.append('path').datum(pts).attr('clip-path',cp).attr('fill',fill||'#000').attr('stroke',fill||'#000').attr('stroke-width',0.5)
    .attr('d', d3.area().x(d=>xs(d[0])).y0(d=>ys(d[2])).y1(d=>ys(d[1])));
}
function drawSpikes(list, xs, ys, cp, w){
  svg.append('g').attr('clip-path',cp).selectAll('line').data(list).join('line')
    .attr('x1',d=>xs(d[0])).attr('x2',d=>xs(d[0])).attr('y1',d=>ys(d[1])).attr('y2',d=>ys(d[2]))
    .attr('stroke','#000').attr('stroke-width',w||1);
}
function drawGaps(list, xs, ys, cp){
  const [r0,r1]=ys.range();
  svg.append('g').attr('clip-path',cp).selectAll('rect').data(list).join('rect')
    .attr('x',d=>xs(d[0])).attr('width',d=>Math.max(1,xs(d[1])-xs(d[0]))).attr('y',r1).attr('height',r0-r1).attr('fill','#fff');
}
function breathPts(t0,P,pk,tr){const o=[];pk.forEach((p,k)=>{o.push([t0+k*P, tr[k]!==undefined?tr[k]:tr[tr.length-1]]);o.push([t0+(k+0.45)*P,p]);});o.push([t0+pk.length*P,tr[tr.length-1]]);return o;}
function seriesPts(t0,dt,vals){return vals.map((v,i)=>[t0+i*dt,v]);}
function vlabel(txt, cx, cy, size, len){
  const t=svg.append('text').attr('transform',`translate(${cx},${cy}) rotate(-90)`).attr('text-anchor','middle').attr('dominant-baseline','central')
    .attr('font-family',SANS).attr('font-size',size).attr('fill','#000').text(txt);
  if(len) t.attr('textLength',len).attr('lengthAdjust','spacingAndGlyphs');
}
function unitLabel(cx, cy, size){
  const t=svg.append('text').attr('transform',`translate(${cx},${cy}) rotate(-90)`).attr('text-anchor','middle').attr('dominant-baseline','central')
    .attr('font-family',SANS).attr('font-size',size).attr('fill','#000');
  t.append('tspan').text('[min');
  t.append('tspan').attr('dy',-size*0.4).attr('font-size',size*0.75).text('-1');
  t.append('tspan').attr('dy',size*0.4).text(']');
}
function letter(txt,x,y,size){svg.append('text').attr('x',x).attr('y',y).attr('font-family',SANS).attr('font-weight','bold').attr('font-size',size).attr('fill','#000').text(txt);}
const fmt3 = v=>(v/1000).toFixed(3);
const fmt2 = v=>v.toFixed(2);
const fmt0 = v=>String(v);

// ---------- Panel A ----------
const xA = d3.scaleLinear().domain([-0.33,19.6]).range([78,919]);
const yARR = d3.scaleLinear().domain([72.7,103.3]).range([78,3]);
const yALing = d3.scaleLinear().domain([4.41,18.7]).range([158,85]);
const yADia = d3.scaleLinear().domain([3.84,9.33]).range([248,178]);
const yANuc = d3.scaleLinear().domain([-0.26,0.59]).range([328,253]);
const yAEeg = d3.scaleLinear().domain([-1.32,1.55]).range([413,337]);
const cpA = ys => clip(79, ys.range()[1]-0.5, 920, ys.range()[0]+0.5);
const cpArr = cpA(yARR);
aRespSegVals.forEach((vals,i)=>drawLine(seriesPts(aRespSegStart[i],aRespSegStep[i],vals), xA, yARR, cpArr, 0.9));
const cpAl = cpA(yALing);
drawBand(aEnvStart, aEnvStep, aLingHi, aLingLo, xA, yALing, cpAl);
drawGaps(aLingGaps, xA, yALing, cpAl);
drawSpikes(aLingSpikes, xA, yALing, cpAl, 1.3);
const cpAd = cpA(yADia);
drawBand(aEnvStart, aEnvStep, aDiaHi, aDiaLo, xA, yADia, cpAd);
drawSpikes(aDiaSpikes, xA, yADia, cpAd, 1);
drawGaps(aDiaGaps, xA, yADia, cpAd);
const cpAn = cpA(yANuc);
drawBand(aEnvStart, aEnvStep, aNucHi, aNucLo, xA, yANuc, cpAn);
drawSpikes(aNucSpikes, xA, yANuc, cpAn, 1.3);
const cpAe = cpA(yAEeg);
drawBand(aEnvStart, aEnvStep, aEegHi, aEegLo, xA, yAEeg, cpAe);
drawSpikes(aEegSpikes, xA, yAEeg, cpAe, 1);
yAxis(78, yARR, [80,100], 1, fmt0, 12);
yAxis(78, yALing, [5,10,15], 0.5, fmt3, 7);
yAxis(78, yADia, [4,6,8], 0.2, fmt3, 7);
yAxis(78, yANuc, [-0.25,0,0.25,0.5], 0.025, fmt2, 7);
yAxis(78, yAEeg, [-1,0,1], 0.1, fmt0, 7);
xAxis(413, xA, d3.range(0,20), aTimeLabels, 1/6, 6);
aMarkLabels.forEach((lab,i)=>{
  svg.append('rect').attr('x',xA(aMarkStart[i])).attr('y',161).attr('width',xA(aMarkEnd[i])-xA(aMarkStart[i])).attr('height',5).attr('fill','#ee1c24');
  svg.append('text').attr('x',xA(aMarkLabelAt[i])).attr('y',184).attr('text-anchor','middle').attr('font-family',SANS).attr('font-size',15).attr('fill','#000').text(lab);
});
letter('A',87,19,21);
vlabel('Resp.',12,34,23,62); vlabel('Rate',32,40,23,46); unitLabel(47,57,8);
vlabel('\u222BLingual',13,123,23,68); vlabel('EMG',37,118,24,34);
vlabel('\u222BDIA',13,207,23,48);
vlabel('Nuchal',14,280,23,55); vlabel('EMG',38,283,24,34);
vlabel('EEG',17,366,24,30);

// ---------- Panels B, C, D ----------
const yBRR = d3.scaleLinear().domain([65.7,105.1]).range([510,441]);
const yBLing = d3.scaleLinear().domain([4.13,18.26]).range([582,517]);
const yBDia = d3.scaleLinear().domain([3.86,9.07]).range([664,591]);
const yBNuc = d3.scaleLinear().domain([-0.3125,0.6]).range([738,665]);
const yBEeg = d3.scaleLinear().domain([-1.37,1.49]).range([815,742]);
const xB = d3.scaleLinear().domain([5.7,30.6]).range([108,248.7]);
const xC = d3.scaleLinear().domain([13.9,68.3]).range([272,585]);
const xD = d3.scaleLinear().domain([38.8,91.5]).range([613,917]);
function subAxes(xs){
  const x0 = xs.range()[0];
  yAxis(x0, yBRR, [80,100], 2, fmt0, 12);
  yAxis(x0, yBLing, [5,10,15], 0.5, fmt3, 7);
  yAxis(x0, yBDia, [4,6,8], 0.2, fmt3, 7);
  yAxis(x0, yBNuc, [-0.25,0,0.25,0.5], 0.025, fmt2, 7);
  yAxis(x0, yBEeg, [-1,0,1], 0.1, fmt0, 7);
}
function cpS(xs, ys){return clip(xs.range()[0]+0.5, ys.range()[1]-0.5, xs.range()[1]+0.5, ys.range()[0]+0.5);}
// B
drawLine(bResp, xB, yBRR, cpS(xB,yBRR), 0.9);
drawLine(breathPts(bBreathStart,bBreath,bLingPk,bLingTr), xB, yBLing, cpS(xB,yBLing), 0.9);
drawLine(breathPts(bBreathStart,bBreath,bDiaPk,bDiaTr), xB, yBDia, cpS(xB,yBDia), 0.8);
drawBand(bBandStart,bBandStep,bNucHi,bNucLo,xB,yBNuc,cpS(xB,yBNuc));
drawBand(bBandStart,bBandStep,bEegHi,bEegLo,xB,yBEeg,cpS(xB,yBEeg),'#1a1a1a');
drawSpikes(bEegSpikes,xB,yBEeg,cpS(xB,yBEeg),0.9);
subAxes(xB);
xAxis(815, xB, [10,20,30], bTimeLabels, 1, 6);
letter('B',118,458,19);
// C
const cpCr = cpS(xC,yBRR);
drawLine(cResp1, xC, yBRR, cpCr, 0.9); drawLine(cResp2, xC, yBRR, cpCr, 0.9);
const cpCl = cpS(xC,yBLing);
drawLine(breathPts(cLing1Start,cBreath,cLing1Pk,cLing1Tr), xC, yBLing, cpCl, 0.9);
drawLine(cLingArousal, xC, yBLing, cpCl, 0.9);
drawLine(breathPts(cLing3Start,cBreath,cLing3Pk,cLing3Tr), xC, yBLing, cpCl, 0.9);
const cpCd = cpS(xC,yBDia);
drawLine(breathPts(cDia1Start,cBreath,cDia1Pk,cDia1Tr), xC, yBDia, cpCd, 0.8);
drawLine(breathPts(cDia2Start,cBreath,cDia2Pk,cDia2Tr), xC, yBDia, cpCd, 0.8);
const cpCn = cpS(xC,yBNuc);
drawBand(cBandStart,cBandStep,cNucHi,cNucLo,xC,yBNuc,cpCn);
drawSpikes(cNucSpikes,xC,yBNuc,cpCn,1.6);
const cpCe = cpS(xC,yBEeg);
drawBand(cBandStart,cBandStep,cEegHi,cEegLo,xC,yBEeg,cpCe,'#1a1a1a');
drawSpikes(cEegSpikes,xC,yBEeg,cpCe,0.9);
subAxes(xC);
xAxis(815, xC, [20,30,40,50,60], cTimeLabels, 1, 6);
letter('C',281,458,19);
// D
drawLine(dResp, xD, yBRR, cpS(xD,yBRR), 0.9);
const cpDl = cpS(xD,yBLing);
drawLine(breathPts(dBreathStart,dBreath,dLingPk,dLingTr), xD, yBLing, cpDl, 0.9);
drawLine(seriesPts(dLingTailStart,dLingTailStep,dLingTail), xD, yBLing, cpDl, 0.9);
drawLine(breathPts(dBreathStart,dBreath,dDiaPk,dDiaTr), xD, yBDia, cpS(xD,yBDia), 0.8);
const cpDn = cpS(xD,yBNuc);
drawBand(dBandStart,dBandStep,dNucHi,dNucLo,xD,yBNuc,cpDn);
drawSpikes(dNucSpikes,xD,yBNuc,cpDn,1.4);
const cpDe = cpS(xD,yBEeg);
drawBand(dBandStart,dBandStep,dEegHi,dEegLo,xD,yBEeg,cpDe,'#1a1a1a');
drawSpikes(dEegSpikes,xD,yBEeg,cpDe,0.9);
subAxes(xD);
xAxis(815, xD, [40,50,60,70,80,90], dTimeLabels, 1, 6, clip(560,810,918,840));
letter('D',623,458,19);
vlabel('Resp.',34,466,23,62); vlabel('Rate',54,461,23,46); unitLabel(73,455,8);
vlabel('\u222BLingual',34,554,23,72); vlabel('EMG',64,540,24,34);
vlabel('\u222BDIA',35,628,23,48);
vlabel('Nuchal',38,701,23,60); vlabel('EMG',64,697,24,34);
vlabel('EEG',41,782,24,42);

// ---------- Panel E ----------
const xE = d3.scaleLinear().domain([0,300]).range([87,937]);
const yH = d3.scaleLinear().domain([0,2]).range([905,852]);
const yR = d3.scaleLinear().domain([0,6]).range([1008,932]);
const eTicks = d3.range(0,301,30);
svg.append('rect').attr('x',xE(eHighlight[0])).attr('y',847).attr('width',xE(eHighlight[1])-xE(eHighlight[0])).attr('height',66).attr('fill','#fbf99b');
svg.append('path').attr('d',`M${xE(0)},913V847H${xE(300)}V913`).attr('fill','none').attr('stroke','#000').attr('stroke-width',1.3);
svg.append('line').attr('x1',xE(0)).attr('x2',xE(300)).attr('y1',913).attr('y2',913).attr('stroke','#000').attr('stroke-width',1.3);
svg.append('g').selectAll('line').data(eTicks).join('line').attr('x1',d=>xE(d)).attr('x2',d=>xE(d)).attr('y1',913).attr('y2',918).attr('stroke','#000').attr('stroke-width',1.2);
svg.append('g').selectAll('line').data([0,1,2]).join('line').attr('x1',xE(0)-6).attr('x2',xE(0)).attr('y1',d=>yH(d)).attr('y2',d=>yH(d)).attr('stroke','#000').attr('stroke-width',1.2);
svg.append('g').selectAll('text').data(eStates).join('text').attr('x',78).attr('y',(d,i)=>yH(i)).attr('dy','0.36em').attr('text-anchor','end').attr('font-family',SANS).attr('font-size',17).attr('fill','#000').text(d=>d);
const hypPts = eHypno.concat([[300, eHypno[eHypno.length-1][1]]]);
svg.append('path').datum(hypPts).attr('fill','none').attr('stroke','#000').attr('stroke-width',1.8)
  .attr('d', d3.line().curve(d3.curveStepAfter).x(d=>xE(d[0])).y(d=>yH(d[1])));
svg.append('g').selectAll('circle').data(eDots).join('circle').attr('cx',d=>xE(d)).attr('cy',yH(1)-4).attr('r',2.3)
  .attr('fill',d=>(d>=eHighlight[0]&&d<=eHighlight[1])?'#f26522':'#ee1c24');
svg.append('circle').attr('cx',98).attr('cy',833).attr('r',2.6).attr('fill','#ee1c24');
svg.append('text').attr('x',113).attr('y',838.5).attr('font-family',SANS).attr('font-weight','bold').attr('font-size',13).attr('fill','#000').text('Inspiratory-modulated lingual EMG');
letter('E',8,847,21);
const cpR = clip(xE(0), 931, xE(300), 1009);
svg.append('path').datum(eRatio).attr('clip-path',cpR).attr('fill','none').attr('stroke','#000').attr('stroke-width',0.9).attr('stroke-linejoin','round')
  .attr('d', d3.line().x(d=>xE(d[0])).y(d=>yR(d[1])));
svg.append('rect').attr('x',xE(0)).attr('y',yR(6)).attr('width',xE(300)-xE(0)).attr('height',yR(0)-yR(6)).attr('fill','none').attr('stroke','#000').attr('stroke-width',1.3);
svg.append('g').selectAll('line').data(eTicks).join('line').attr('x1',d=>xE(d)).attr('x2',d=>xE(d)).attr('y1',1008).attr('y2',1013).attr('stroke','#000').attr('stroke-width',1.2);
svg.append('g').selectAll('text').data(eTicks).join('text').attr('x',d=>xE(d)).attr('y',1028).attr('text-anchor','middle').attr('font-family',SANS).attr('font-weight','bold').attr('font-size',12.5).attr('fill','#000').text((d,i)=>eTimeLabels[i]);
svg.append('g').selectAll('line').data([0,2,4,6]).join('line').attr('x1',xE(0)-5).attr('x2',xE(0)).attr('y1',d=>yR(d)).attr('y2',d=>yR(d)).attr('stroke','#000').attr('stroke-width',1.2);
svg.append('g').selectAll('text').data([0,2,4,6]).join('text').attr('x',77).attr('y',d=>yR(d)).attr('dy','0.36em').attr('text-anchor','end').attr('font-family',SANS).attr('font-weight','bold').attr('font-size',12.5).attr('fill','#000').text(d=>d);
[['EEG',947],['\u03B22/\u03942',967],['power',990],['ratio',1008]].forEach(([t,y])=>{
  svg.append('text').attr('x',37).attr('y',y).attr('text-anchor','middle').attr('font-family',SANS).attr('font-size',15.5).attr('fill','#000').text(t);
});
svg.append('text').attr('x',513).attr('y',1045).attr('text-anchor','middle').attr('font-family',SANS).attr('font-weight','bold').attr('font-size',14.5).attr('fill','#000').text('Clock time');
</script></body></html>
